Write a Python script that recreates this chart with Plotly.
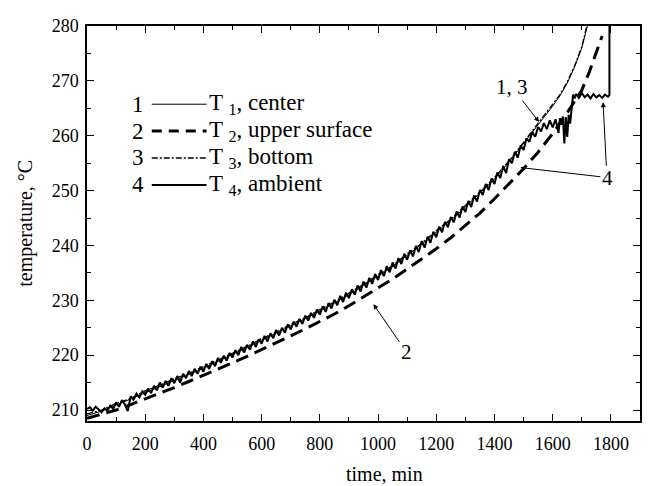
import plotly.graph_objects as go

# ---------------- data ----------------
t1 = [0, 50, 100, 150, 200, 250, 300, 350, 400, 450, 500, 550, 600, 650, 700, 750,
      800, 850, 900, 950, 1000, 1050, 1100, 1150, 1200, 1250, 1300, 1350, 1400, 1450,
      1500, 1550, 1600, 1625, 1650, 1675, 1700, 1720]
T1 = [209.0, 209.8, 210.9, 212.0, 213.2, 214.3, 215.4, 216.5, 217.6, 218.9, 220.1,
      221.4, 222.7, 224.0, 225.3, 226.6, 228.0, 229.5, 231.0, 232.7, 234.4, 236.1,
      238.2, 240.2, 242.4, 244.6, 247.0, 249.5, 252.1, 255.2, 258.5, 262.0, 265.4,
      267.3, 269.6, 272.5, 276.0, 280.2]

t3 = [0, 50, 100, 150, 200, 250, 300, 350, 400, 450, 500, 550, 600, 650, 700, 750,
      800, 850, 900, 950, 1000, 1050, 1100, 1150, 1200, 1250, 1300, 1350, 1400, 1450,
      1500, 1550, 1600, 1625, 1650, 1675, 1700, 1718]
T3 = [209.3, 210.0, 211.2, 212.1, 213.5, 214.5, 215.7, 216.7, 217.9, 219.1, 220.4,
      221.6, 223.0, 224.2, 225.6, 226.8, 228.3, 229.7, 231.3, 232.9, 234.7, 236.3,
      238.5, 240.4, 242.7, 244.8, 247.3, 249.7, 252.4, 255.4, 258.8, 262.2, 265.6,
      267.5, 269.8, 272.7, 276.2, 280.2]

t2 = [0, 50, 100, 150, 200, 250, 300, 350, 400, 450, 500, 550, 600, 650, 700, 750,
      800, 850, 900, 950, 1000, 1050, 1100, 1150, 1200, 1250, 1300, 1350, 1400, 1450,
      1500, 1550, 1600, 1650, 1700, 1725, 1750, 1770]
T2 = [208.5, 209.2, 210.0, 211.0, 212.0, 213.0, 214.1, 215.2, 216.3, 217.4, 218.6,
      219.8, 221.0, 222.2, 223.5, 224.8, 226.1, 227.5, 229.0, 230.6, 232.2, 233.9,
      235.7, 237.5, 239.4, 241.4, 243.6, 245.9, 248.5, 251.2, 254.0, 257.0, 260.4,
      264.2, 268.3, 271.5, 275.2, 278.2]

t4 = [0, 10, 20, 30, 40, 50, 60, 70, 80, 90, 100, 110, 120, 130, 140, 150, 160, 170,
      180, 190, 200, 210, 220, 230, 240, 250, 260, 270, 280, 290, 300, 310, 320, 330,
      340, 350, 360, 370, 380, 390, 400, 410, 420, 430, 440, 450, 460, 470, 480, 490,
      500, 510, 520, 530, 540, 550, 560, 570, 580, 590, 600, 610, 620, 630, 640, 650,
      660, 670, 680, 690, 700, 710, 720, 730, 740, 750, 760, 770, 780, 790, 800, 810,
      820, 830, 840, 850, 860, 870, 880, 890, 900, 910, 920, 930, 940, 950, 960, 970,
      980, 990, 1000, 1010, 1020, 1030, 1040, 1050, 1060, 1070, 1080, 1090, 1100, 1110,
      1120, 1130, 1140, 1150, 1160, 1170, 1180, 1190, 1200, 1210, 1220, 1230, 1240,
      1250, 1260, 1270, 1280, 1290, 1300, 1310, 1320, 1330, 1340, 1350, 1360, 1370,
      1380, 1390, 1400, 1410, 1420, 1430, 1440, 1450, 1460, 1470, 1480, 1490, 1500,
      1510, 1520, 1530, 1540, 1550, 1560, 1570, 1580, 1590, 1600, 1610, 1620, 1625,
      1630, 1635, 1640, 1645, 1650, 1655, 1660, 1665, 1670, 1675, 1680, 1690, 1700,
      1710, 1720, 1730, 1740, 1750, 1760, 1770, 1780, 1790, 1795, 1795]
T4 = [210.2, 210.5, 209.9, 210.6, 210.1, 209.6, 210.3, 209.9, 210.8, 210.2, 211.4,
      210.6, 211.8, 211.0, 209.8, 212.5, 211.9, 213.0, 212.3, 213.4, 212.8, 213.9,
      213.1, 214.4, 213.6, 215.0, 214.1, 215.3, 214.4, 215.8, 214.9, 216.2, 215.0,
      216.6, 215.8, 217.1, 216.2, 217.5, 216.6, 217.9, 217.0, 218.4, 217.5, 218.9,
      218.0, 219.5, 218.6, 219.9, 219.0, 220.4, 219.6, 220.9, 220.0, 221.5, 220.5,
      221.9, 221.0, 222.5, 221.5, 222.9, 222.1, 223.5, 222.5, 224.0, 223.1, 224.6,
      223.6, 225.0, 224.1, 225.6, 224.7, 226.1, 225.2, 226.6, 225.7, 227.2, 226.3,
      227.7, 226.8, 228.3, 227.4, 228.9, 227.9, 229.5, 228.5, 230.1, 229.1, 230.8,
      229.7, 231.4, 230.4, 232.0, 231.0, 232.7, 231.6, 233.4, 232.3, 234.1, 233.0,
      234.8, 233.7, 235.5, 234.4, 236.2, 235.1, 236.9, 235.8, 237.7, 236.6, 238.5,
      237.4, 239.1, 238.0, 239.9, 238.8, 240.8, 239.6, 241.6, 240.5, 242.5, 241.5,
      243.4, 242.4, 244.3, 243.3, 245.2, 244.2, 246.2, 245.1, 247.1, 246.1, 248.1,
      247.0, 249.1, 248.0, 250.1, 249.2, 251.2, 250.1, 252.2, 251.2, 253.3, 252.3,
      254.5, 253.2, 255.7, 255.0, 257.1, 256.0, 258.2, 257.4, 259.5, 258.9, 260.7,
      259.8, 261.6, 260.8, 262.3, 261.2, 262.8, 261.5, 263.0, 260.5, 263.2, 262.0,
      263.5, 258.6, 263.4, 259.8, 263.8, 262.2, 264.5, 267.5, 266.8, 267.6, 266.9,
      267.8, 267.0, 267.5, 266.8, 267.6, 267.0, 267.4, 266.9, 267.5, 267.1, 267.4,
      281.0]

x_ticks = [0, 200, 400, 600, 800, 1000, 1200, 1400, 1600, 1800]
y_ticks = [210, 220, 230, 240, 250, 260, 270, 280]

legend_nums = ["1", "2", "3", "4"]
legend_labels = ["T <sub>1</sub>, center", "T <sub>2</sub>, upper surface",
                 "T <sub>3</sub>, bottom", "T <sub>4</sub>, ambient"]

FONT = "Times New Roman, Liberation Serif, serif"

# ---------------- figure ----------------
fig = go.Figure()
fig.add_trace(go.Scatter(x=t4, y=T4, mode="lines",
                         line=dict(color="black", width=2)))
fig.add_trace(go.Scatter(x=t2, y=T2, mode="lines",
                         line=dict(color="black", width=3, dash="13px,7px")))
fig.add_trace(go.Scatter(x=t3, y=T3, mode="lines",
                         line=dict(color="black", width=1.3, dash="6px,2px,2px,2px")))
fig.add_trace(go.Scatter(x=t1, y=T1, mode="lines",
                         line=dict(color="black", width=1)))

# the page body has an 8px margin, so the figure is sized to fit the window
OFF = 8
W, H = 642, 478
ML, MR, MT, MB = 79, 8, 9, 65
PW, PH = W - ML - MR, H - MT - MB


def px2paper(px, py):
    # px, py are window pixel positions
    return (px - OFF - ML) / PW, (H - MB - (py - OFF)) / PH


styles = [dict(width=1, dash="solid"), dict(width=3, dash="10px,7px"),
          dict(width=1.3, dash="6px,2px,2px,2px"), dict(width=2, dash="solid")]
row_y = [97, 124.5, 152, 179.5]
for num, lab, st, ry in zip(legend_nums, legend_labels, styles, row_y):
    nx, ny = px2paper(146, ry)
    fig.add_annotation(x=nx, y=ny, xref="paper", yref="paper", text=num,
                       showarrow=False, xanchor="right", yanchor="middle",
                       font=dict(family=FONT, size=23, color="black"))
    x0, y0 = px2paper(152, ry)
    x1, _ = px2paper(207, ry)
    fig.add_shape(type="line", xref="paper", yref="paper", x0=x0, x1=x1, y0=y0, y1=y0,
                  line=dict(color="black", **st))
    fig.add_annotation(x=x1, y=ny, xref="paper", yref="paper", text=lab,
                       showarrow=False, xanchor="left", yanchor="middle",
                       font=dict(family=FONT, size=23, color="black"))

afont = dict(family=FONT, size=21, color="black")
arrow = dict(showarrow=True, arrowhead=2, arrowsize=1, arrowwidth=1, arrowcolor="black",
             xref="x", yref="y", axref="pixel", ayref="pixel")
fig.add_annotation(x=1553, y=262.5, text="1, 3", ax=-27, ay=-35, font=afont, **arrow)
fig.add_annotation(x=984, y=229.3, text="2", ax=33, ay=48, font=afont, **arrow)
fig.add_annotation(x=1489, y=254.2, text="4", ax=87, ay=10, font=afont, **arrow)
fig.add_annotation(x=1773, y=266.1, text="4", ax=4, ay=77,
                   font=dict(family=FONT, size=21, color="rgba(0,0,0,0)"), **arrow)

tx, ty = px2paper(386, 475)
fig.add_annotation(x=tx, y=ty, xref="paper", yref="paper", text="time, min",
                   showarrow=False, xanchor="center", yanchor="middle",
                   font=dict(family=FONT, size=20, color="black"))
yx, yy = px2paper(25, 219)
fig.add_annotation(x=yx, y=yy, xref="paper", yref="paper", text="temperature, °C",
                   showarrow=False, textangle=-90, xanchor="center", yanchor="middle",
                   font=dict(family=FONT, size=20, color="black"))

axis_common = dict(showgrid=False, zeroline=False, showline=True, linecolor="black",
                   linewidth=1.5, mirror="ticks", ticks="inside", ticklen=7,
                   tickwidth=1.3, tickcolor="black",
                   tickfont=dict(family=FONT, size=18, color="black"))
fig.update_xaxes(range=[0, 1900], tickvals=x_ticks, ticklabelstandoff=6,
                 minor=dict(ticks="inside", ticklen=4, dtick=100, tick0=0,
                            tickcolor="black", tickwidth=1.2, showgrid=False),
                 **axis_common)
fig.update_yaxes(range=[208, 280], tickvals=y_ticks, ticklabelstandoff=3,
                 minor=dict(ticks="inside", ticklen=4, dtick=5, tick0=0,
                            tickcolor="black", tickwidth=1.2, showgrid=False),
                 **axis_common)

fig.update_layout(width=W, height=H, margin=dict(l=ML, r=MR, t=MT, b=MB),
                  paper_bgcolor="white", plot_bgcolor="white", showlegend=False,
                  font=dict(family=FONT, color="black"))

fig.write_html("out.html")
